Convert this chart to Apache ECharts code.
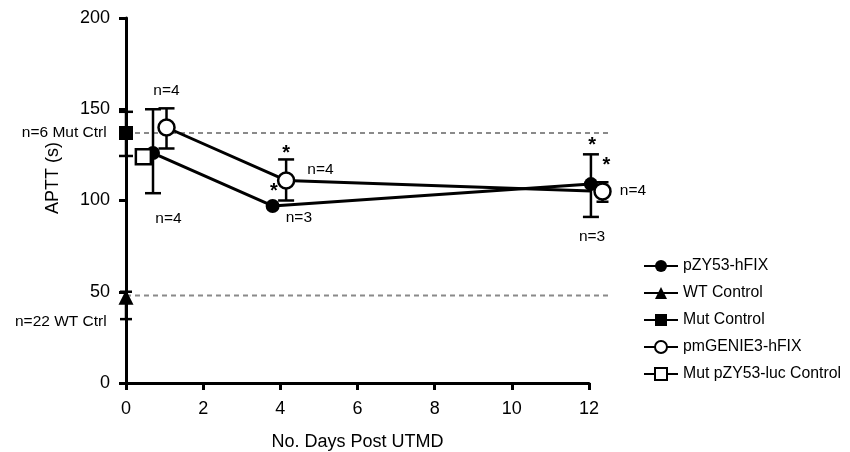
<!DOCTYPE html>
<html>
<head>
<meta charset="utf-8">
<script src="https://cdn.jsdelivr.net/npm/echarts@6/dist/echarts.min.js"></script>
<style>
html, body { margin: 0; padding: 0; background: #fff; }
#main { width: 850px; height: 452px; }
</style>
</head>
<body>
<div id="main"></div>
<script>
// data
var xTicks = [0, 2, 4, 6, 8, 10, 12];
var pzyData = [[0.7, 126], [3.8, 97], [12.05, 109]];
var pzyErr = [[0.7, 104, 150], [12.05, 91, 125.3]];
var genieData = [[1.05, 140], [4.15, 111], [12.35, 105]];
var genieErr = [[1.05, 128.5, 150.5], [4.15, 100, 122.5], [12.35, 99.3, 110]];
var wtData = [[0, 47]];
var wtErr = [[0, 35, 50]];
var mutData = [[0, 137]];
var mutErr = [[0, 124.4, 148.6]];
var lucData = [[0.45, 124]];
// dashed reference levels: [y, xStart, xEnd]
var refLines = [[137, 0, 12.5], [48, 0, 12.5]];
// [x, y, text, align]
var notes = [
  [1.05, 160, 'n=4', 'center'],
  [1.1, 90, 'n=4', 'center'],
  [-0.5, 137, 'n=6 Mut Ctrl', 'right'],
  [-0.5, 33.5, 'n=22 WT Ctrl', 'right'],
  [4.15, 126, '*', 'center'],
  [3.83, 105, '*', 'center'],
  [4.7, 117, 'n=4', 'left'],
  [4.48, 90.5, 'n=3', 'center'],
  [12.08, 130, '*', 'center'],
  [12.45, 119, '*', 'center'],
  [12.8, 105.5, 'n=4', 'left'],
  [12.08, 80, 'n=3', 'center']
];

var myChart = echarts.init(document.getElementById('main'));
var FONT = 'Liberation Sans, Arial, Helvetica, sans-serif';

function errSeries(data, cap) {
  return {
    type: 'custom',
    silent: true,
    clip: false,
    z: 1,
    data: data,
    renderItem: function (params, api) {
      var top = api.coord([api.value(0), api.value(2)]);
      var bot = api.coord([api.value(0), api.value(1)]);
      var st = { stroke: '#000', lineWidth: 2.5 };
      return {
        type: 'group',
        children: [
          { type: 'line', shape: { x1: top[0], y1: top[1], x2: bot[0], y2: bot[1] }, style: st },
          { type: 'line', shape: { x1: top[0] - cap, y1: top[1], x2: top[0] + cap, y2: top[1] }, style: st },
          { type: 'line', shape: { x1: bot[0] - cap, y1: bot[1], x2: bot[0] + cap, y2: bot[1] }, style: st }
        ]
      };
    }
  };
}

function lineSeries(name, data, symbol, size, filled) {
  return {
    name: name,
    type: 'line',
    data: data,
    symbol: symbol,
    symbolSize: size,
    showAllSymbol: true,
    clip: false,
    z: 3,
    animation: false,
    lineStyle: { color: '#000', width: 3 },
    itemStyle: { color: filled ? '#000' : '#fff', borderColor: '#000', borderWidth: filled ? 0 : 2.5 }
  };
}

var refSeries = {
  type: 'custom',
  silent: true,
  clip: false,
  z: 0,
  data: refLines,
  renderItem: function (params, api) {
    var a = api.coord([api.value(1), api.value(0)]);
    var b = api.coord([api.value(2), api.value(0)]);
    return {
      type: 'line',
      shape: { x1: a[0], y1: a[1], x2: b[0], y2: b[1] },
      style: { stroke: '#8a8a8a', lineWidth: 2, lineDash: [5, 4] }
    };
  }
};

var option = {
  animation: false,
  grid: { left: 126, right: 261, top: 18, bottom: 69, outerBoundsMode: 'none' },
  xAxis: {
    type: 'value',
    min: 0,
    max: 12,
    interval: 2,
    name: 'No. Days Post UTMD',
    nameLocation: 'middle',
    nameGap: 50,
    nameTextStyle: { color: '#000', fontSize: 18, fontFamily: FONT },
    axisLine: { lineStyle: { color: '#000', width: 3 } },
    axisTick: { length: 7, lineStyle: { color: '#000', width: 3 } },
    axisLabel: { color: '#000', fontSize: 18, fontFamily: FONT, margin: 17,
      customValues: xTicks },
    splitLine: { show: false }
  },
  yAxis: {
    type: 'value',
    min: 0,
    max: 200,
    interval: 50,
    axisLine: { show: true, lineStyle: { color: '#000', width: 3 } },
    axisTick: { show: true, length: 7, lineStyle: { color: '#000', width: 3 } },
    axisLabel: { color: '#000', fontSize: 18, fontFamily: FONT, margin: 16 },
    splitLine: { show: false }
  },
  legend: {
    orient: 'vertical',
    left: 638,
    top: 253,
    itemWidth: 34,
    itemHeight: 15,
    itemGap: 11,
    textStyle: { color: '#000', fontSize: 15.8, fontFamily: FONT },
    data: ['pZY53-hFIX', 'WT Control', 'Mut Control', 'pmGENIE3-hFIX', 'Mut pZY53-luc Control']
  },
  graphic: [{
    type: 'text',
    x: 44,
    y: 178,
    rotation: Math.PI / 2,
    style: { text: 'APTT (s)', fill: '#000', font: '18px ' + FONT, align: 'center', verticalAlign: 'top' }
  }],
  series: [
    refSeries,
    errSeries(pzyErr, 8),
    errSeries(genieErr.slice(0, 2), 8),
    errSeries(genieErr.slice(2), 6),
    errSeries(wtErr, 6),
    errSeries(mutErr, 7),
    lineSeries('pZY53-hFIX', pzyData, 'circle', 14, true),
    lineSeries('WT Control', wtData, 'triangle', 15, true),
    lineSeries('Mut Control', mutData, 'rect', 14, true),
    lineSeries('pmGENIE3-hFIX', genieData, 'circle', 16, false),
    lineSeries('Mut pZY53-luc Control', lucData, 'rect', 15, false),
    {
      type: 'scatter',
      silent: true,
      clip: false,
      symbolSize: 0,
      z: 5,
      itemStyle: { opacity: 1 },
      data: notes.map(function (n) {
        return {
          value: [n[0], n[1]],
          label: {
            show: true,
            position: 'inside',
            formatter: n[2],
            align: n[3],
            verticalAlign: 'middle',
            color: '#000',
            fontSize: n[2] === '*' ? 20 : 15.5,
            fontWeight: n[2] === '*' ? 'bold' : 'normal',
            fontFamily: FONT
          }
        };
      })
    }
  ]
};
myChart.setOption(option);
</script>
</body>
</html>
